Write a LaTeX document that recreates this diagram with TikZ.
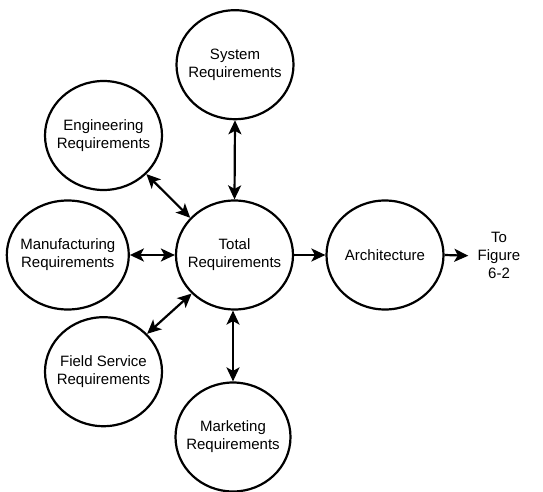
\documentclass[tikz,border=0pt]{standalone}
\usepackage{fontspec}
\setmainfont{Liberation Sans}
\usetikzlibrary{shapes.geometric,arrows.meta}
\begin{document}
\begin{tikzpicture}[x=1pt,y=-1pt,
  bub/.style={draw,ellipse,line width=2.2pt,inner xsep=-14pt,inner ysep=0pt,minimum width=117pt,minimum height=109pt,align=center,font=\fontsize{15}{18}\selectfont},
  con/.style={line width=2.2pt,{Stealth[length=14pt,width=13pt,inset=3.5pt]}-{Stealth[length=14pt,width=13pt,inset=3.5pt]}},
  one/.style={line width=2.2pt,-{Stealth[length=14pt,width=13pt,inset=3.5pt]}}]
\useasboundingbox (0,0) rectangle (543,492);
\node[bub] (sys) at (235,64.7) {System\\Requirements};
\node[bub] (eng) at (103.5,135.5) {Engineering\\Requirements};
\node[bub,minimum width=122pt] (man) at (67.8,255) {Manufacturing\\Requirements};
\node[bub] (tot) at (234.5,255) {Total\\Requirements};
\node[bub] (arc) at (385,255) {Architecture};
\node[bub] (fs) at (103.5,371.7) {Field Service\\Requirements};
\node[bub,minimum width=115pt] (mkt) at (233,437) {Marketing\\Requirements};
\node[align=center,font=\fontsize{15}{18}\selectfont,inner sep=0pt] (fig) at (499,255) {To\\Figure\\6-2};
\draw[con] (sys.south) -- (tot.north);
\draw[con] (eng.-42) -- (tot.140);
\draw[con] (man.east) -- (tot.west);
\draw[con] (fs.41) -- (tot.222);
\draw[con] (tot.south -| mkt.north) -- (mkt.north);
\draw[one] (tot.east) -- (arc.west);
\coordinate (out) at (468.3,255.7);
\draw[one] (arc.east) -- (out);
\end{tikzpicture}
\end{document}
